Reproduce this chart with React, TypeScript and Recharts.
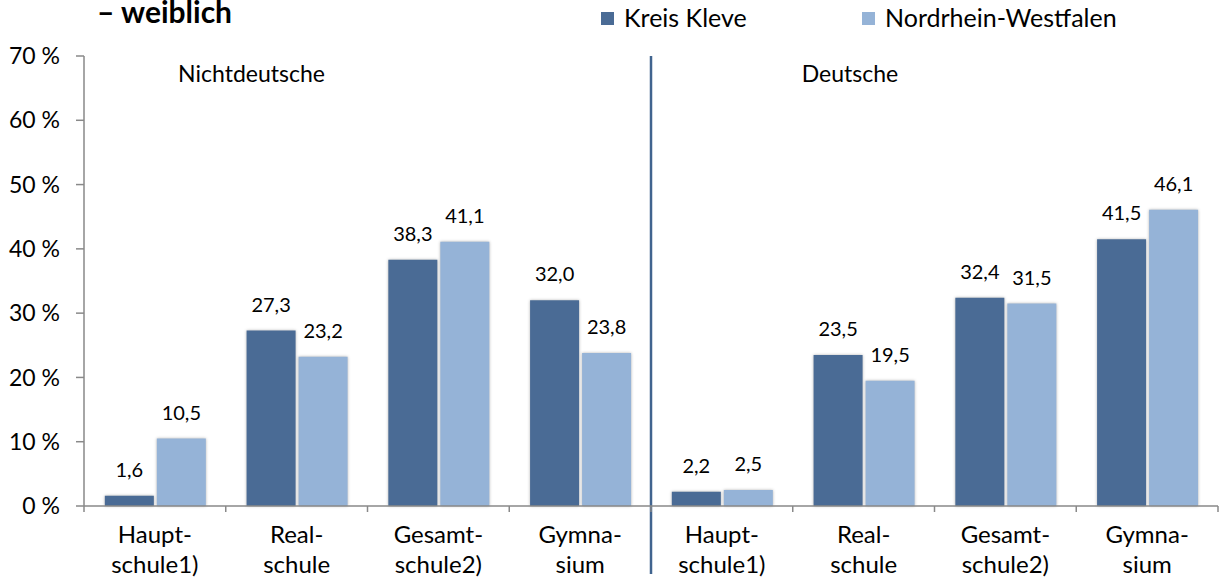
import React from "react";
import { BarChart, Bar, XAxis, YAxis, LabelList, ReferenceLine } from "recharts";

const categories = [
  "Haupt-|schule1)",
  "Real-|schule",
  "Gesamt-|schule2)",
  "Gymna-|sium",
  "Haupt-|schule1)",
  "Real-|schule",
  "Gesamt-|schule2)",
  "Gymna-|sium",
];
const kreisKleve = [1.6, 27.3, 38.3, 32.0, 2.2, 23.5, 32.4, 41.5];
const nrw = [10.5, 23.2, 41.1, 23.8, 2.5, 19.5, 31.5, 46.1];
const yTicks = [0, 10, 20, 30, 40, 50, 60, 70];
const dividerAt = 4;
const seriesNames = ["Kreis Kleve", "Nordrhein-Westfalen"];
const seriesColors = ["#4A6B95", "#95B3D7"];
const groupTitles = ["Nichtdeutsche", "Deutsche"];
const titleText = "– weiblich";

const data = categories.map((c, i) => ({ id: i, cat: c, kk: kreisKleve[i], nrw: nrw[i] }));

const FONT = "Lato, 'Open Sans', sans-serif";
const AXIS = "#898989";
const fmt = (v: number) => v.toFixed(1).replace(".", ",");

const CatTick = (props: any) => {
  const { x, y, payload, index, visibleTicksCount, width } = props;
  const count = visibleTicksCount || categories.length;
  const band = (Number(width) || 1134) / count;
  const label = categories[payload.value] || "";
  const [l1, l2] = label.split("|");
  const left = x - band / 2;
  const right = x + band / 2;
  return (
    <g>
      <line x1={left} y1={y} x2={left} y2={y + 6} stroke={AXIS} strokeWidth={1.5} />
      {index === count - 1 && <line x1={right} y1={y} x2={right} y2={y + 6} stroke={AXIS} strokeWidth={1.5} />}
      <text x={x} y={y} textAnchor="middle" fontFamily={FONT} fontSize={24} fill="#000">
        <tspan x={x} dy={37}>{l1}</tspan>
        <tspan x={x} dy={30}>{l2}</tspan>
      </text>
    </g>
  );
};

const Divider = (props: any) => {
  const { x1, y1, x2, y2 } = props;
  const top = Math.min(y1, y2);
  const bottom = Math.max(y1, y2);
  return <line x1={x1} y1={top} x2={x2} y2={bottom + 68} stroke="#41648F" strokeWidth={2.5} />;
};

const legendX = [601, 862];

export default function App() {
  return (
    <div style={{ position: "absolute", left: 0, top: 0, width: 1223, height: 579, background: "#fff", fontFamily: FONT }}>
      <div style={{ position: "absolute", left: 0, top: 0 }}>
        <BarChart
          width={1223}
          height={579}
          data={data}
          margin={{ top: 56, right: 5, bottom: 0, left: 0 }}
          barCategoryGap="14.7%"
          barGap={3}
        >
          <XAxis
            xAxisId="a"
            type="number"
            dataKey="id"
            domain={[0, 8]}
            hide
            height={0}
            allowDataOverflow
          />
          <XAxis
            xAxisId="b"
            dataKey="id"
            type="category"
            height={73}
            axisLine={{ stroke: AXIS, strokeWidth: 1.5 }}
            tickLine={false}
            tickSize={0}
            tickMargin={0}
            interval={0}
            tick={<CatTick />}
          />
          <YAxis
            domain={[0, 70]}
            ticks={yTicks}
            width={84}
            tickSize={8}
            tickMargin={16}
            tickFormatter={(v: number) => `${v} %`}
            axisLine={{ stroke: AXIS, strokeWidth: 1.5 }}
            tickLine={{ stroke: AXIS, strokeWidth: 1.5 }}
            tick={{ fill: "#000", fontSize: 23, fontFamily: FONT }}
          />
          <Bar xAxisId="b" dataKey="kk" name={seriesNames[0]} fill={seriesColors[0]} isAnimationActive={false}
            style={{ filter: "drop-shadow(0px 0px 1.5px rgba(0,0,0,0.3))" }}>
            <LabelList dataKey="kk" position="top" offset={19} formatter={(v: any) => fmt(Number(v))}
              style={{ fill: "#000", fontSize: 20, fontFamily: FONT }} />
          </Bar>
          <Bar xAxisId="b" dataKey="nrw" name={seriesNames[1]} fill={seriesColors[1]} isAnimationActive={false}
            style={{ filter: "drop-shadow(0px 0px 1.5px rgba(0,0,0,0.3))" }}>
            <LabelList dataKey="nrw" position="top" offset={19} formatter={(v: any) => fmt(Number(v))}
              style={{ fill: "#000", fontSize: 20, fontFamily: FONT }} />
          </Bar>
          <ReferenceLine xAxisId="a" x={dividerAt} shape={<Divider />} />
        </BarChart>
      </div>
      <svg style={{ position: "absolute", left: 0, top: 0, pointerEvents: "none" }} width={1223} height={120}>
        <text x={97} y={23} fontFamily={FONT} fontSize={30} fontWeight={700} fill="#000">{titleText}</text>
        {seriesNames.map((n, i) => (
          <g key={n}>
            <rect x={legendX[i]} y={12} width={13} height={13} fill={seriesColors[i]} />
            <text x={legendX[i] + 23} y={27} fontFamily={FONT} fontSize={25} fill="#000">{n}</text>
          </g>
        ))}
        <text x={251.5} y={82} textAnchor="middle" fontFamily={FONT} fontSize={23} fill="#000">{groupTitles[0]}</text>
        <text x={850} y={82} textAnchor="middle" fontFamily={FONT} fontSize={23} fill="#000">{groupTitles[1]}</text>
      </svg>
    </div>
  );
}
